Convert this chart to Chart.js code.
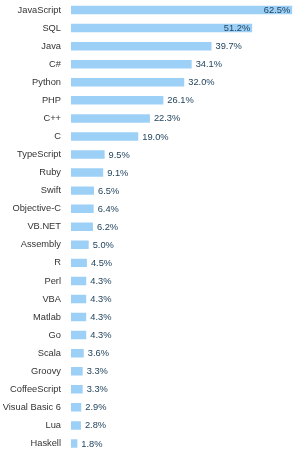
<!DOCTYPE html>
<html>
<head>
<meta charset="utf-8">
<style>
html,body{margin:0;padding:0;background:#fff;}
#wrap{width:305px;height:454px;position:relative;}
</style>
<script src="https://cdn.jsdelivr.net/npm/chart.js@4/dist/chart.umd.min.js"></script>
</head>
<body>
<div id="wrap"><canvas id="c" width="305" height="454"></canvas></div>
<script>
const categories = ["JavaScript","SQL","Java","C#","Python","PHP","C++","C","TypeScript","Ruby","Swift","Objective-C","VB.NET","Assembly","R","Perl","VBA","Matlab","Go","Scala","Groovy","CoffeeScript","Visual Basic 6","Lua","Haskell"];
const values = [62.5,51.2,39.7,34.1,32.0,26.1,22.3,19.0,9.5,9.1,6.5,6.4,6.2,5.0,4.5,4.3,4.3,4.3,4.3,3.6,3.3,3.3,2.9,2.8,1.8];

const FONT = "'Liberation Sans', Arial, Helvetica, sans-serif";

const valueLabels = {
  id: 'valueLabels',
  afterDatasetsDraw(chart) {
    const ctx = chart.ctx;
    const meta = chart.getDatasetMeta(0);
    ctx.save();
    ctx.font = '9.3px ' + FONT;
    ctx.fillStyle = '#23455f';
    ctx.textBaseline = 'middle';
    meta.data.forEach((bar, i) => {
      const v = chart.data.datasets[0].data[i];
      const txt = v.toFixed(1) + '%';
      if (v > 45) {
        ctx.textAlign = 'right';
        ctx.fillText(txt, bar.x - 2, bar.y + 0.5);
      } else {
        ctx.textAlign = 'left';
        ctx.fillText(txt, bar.x + 4, bar.y + 0.5);
      }
    });
    ctx.restore();
  }
};

new Chart(document.getElementById('c'), {
  type: 'bar',
  data: {
    labels: categories,
    datasets: [{
      data: values,
      backgroundColor: '#9dd0f6',
      borderWidth: 0,
      barPercentage: 0.47,
      categoryPercentage: 1
    }]
  },
  options: {
    indexAxis: 'y',
    responsive: false,
    animation: false,
    devicePixelRatio: 1,
    layout: { autoPadding: false, padding: { left: 0, right: 4, top: 1, bottom: 1.5 } },
    plugins: { legend: { display: false }, tooltip: { enabled: false } },
    scales: {
      x: {
        display: false,
        min: 0,
        max: 65
      },
      y: {
        afterFit(s) { s.width = 71; s.paddingTop = 0; s.paddingBottom = 0; },
        grid: { display: false, drawTicks: false },
        border: { display: false },
        ticks: {
          padding: 10,
          color: '#333',
          font: { family: FONT, size: 9.3 },
          autoSkip: false
        }
      }
    }
  },
  plugins: [valueLabels]
});
</script>
</body>
</html>
